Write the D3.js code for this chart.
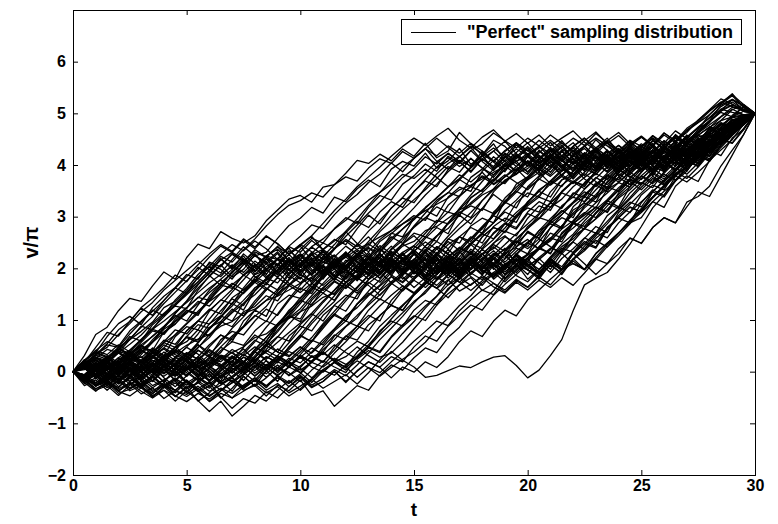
<!DOCTYPE html>
<html>
<head>
<meta charset="utf-8">
<script src="https://cdn.jsdelivr.net/npm/d3@7"></script>
<style>
body { margin: 0; background: #fff; }
svg { display: block; font-family: "Liberation Sans", Arial, Helvetica, sans-serif; }
</style>
</head>
<body>
<svg></svg>
<script>
// sampled paths, v/pi read every 0.5 of t from 0 to 30
const path01 = [0,.31,.72,.86,1.18,1.42,1.36,1.66,1.93,1.79, 2.21,2.47,2.38,2.71,2.58,2.49,2.63,2.92,3.13,3.34, 3.41,3.28,3.57,3.62,3.84,4.09,4.03,4.21,4.08,4.31, 4.17,4.42,4.14,4.27,4.63,4.41,4.19,4.48,4.36,4.12, 4.33,4.06,4.18,4.39,4.13,3.92,4.17,4.04,4.28,4.11, 4.24,4.37,4.12,4.33,4.52,4.41,4.73,4.62,4.88,4.83,5];
const path02 = [0,.18,.47,.76,.69,.98,1.23,1.09,1.38,1.62, 1.51,1.83,2.04,1.91,2.17,2.42,2.24,2.31,2.58,2.83, 2.97,3.18,3.07,3.38,3.29,3.54,3.71,3.58,3.92,4.07, 3.98,4.23,3.94,4.08,4.32,4.01,4.19,4.41,4.07,3.88, 4.16,3.97,3.81,4.08,4.27,3.99,4.22,4.43,4.14,3.96, 4.19,4.34,4.07,4.38,4.21,4.54,4.62,4.81,4.69,4.91,5];
const path03 = [0,.22,.37,.68,.93,1.07,.91,1.24,1.46,1.63, 1.88,1.79,2.12,2.03,2.29,2.14,1.93,2.18,2.06,2.34, 2.17,2.41,2.26,2.02,2.27,2.13,1.96,2.22,2.43,2.19, 2.31,2.08,2.24,2.46,2.61,2.52,2.79,3.02,2.91,3.27, 3.46,3.38,3.69,3.91,3.82,4.07,3.94,4.18,4.03,4.26, 4.12,3.93,4.17,4.04,4.29,4.51,4.42,4.63,4.87,4.79,5];
const path04 = [0,-.17,.08,.23,.47,.62,.88,.81,1.12,1.27, 1.22,1.58,1.86,2.07,1.83,1.98,2.26,2.09,1.87,2.14, 1.97,1.72,1.96,2.18,2.01,2.27,2.38,2.31,2.67,2.86, 3.02,2.93,3.28,3.47,3.39,3.76,3.92,4.16,3.98,3.82, 4.07,3.88,4.17,4.36,4.12,3.91,4.03,4.28,4.09,3.84, 4.01,4.19,3.97,4.26,4.13,4.38,4.24,4.49,4.43,4.71,5];
const path05 = [0,.12,-.07,.16,.39,.33,.57,.79,.72,.98, 1.19,1.13,1.42,1.68,1.61,1.87,2.08,1.84,1.97,2.21, 1.93,2.09,2.28,2.04,1.83,2.07,2.31,2.02,2.17,1.91, 2.12,2.37,2.19,1.94,2.08,2.29,2.13,2.48,2.72,2.63, 2.97,3.21,3.12,3.47,3.68,3.61,3.89,4.08,3.93,4.17, 4.02,3.84,4.09,4.28,4.03,4.23,4.47,4.39,4.68,4.87,5];
const path06 = [0,.19,.03,-.18,.07,.28,.46,.41,.77,.92, 1.18,1.09,1.46,1.72,1.91,2.17,2.02,1.81,2.08,2.27, 2.04,2.21,1.87,2.06,2.32,1.98,1.79,2.07,2.19,2.47, 2.68,2.61,2.88,3.09,3.02,3.37,3.52,3.73,3.64,3.91, 4.08,3.92,4.19,3.98,3.73,3.97,4.21,3.93,4.07,4.28, 4.03,4.18,3.92,4.12,4.31,4.17,4.43,4.68,4.61,4.82,5];
const path07 = [0,-.08,.13,-.16,.02,.18,.41,.27,.58,.81, .73,.98,1.21,1.12,1.43,1.58,1.79,1.68,1.97,2.18, 1.92,2.11,1.83,1.99,2.26,2.12,1.88,2.16,2.03,2.29, 2.07,1.82,2.01,2.23,1.92,2.08,2.37,2.19,1.98,2.26, 2.13,2.42,2.59,2.51,2.87,3.03,3.18,3.09,3.46,3.71, 3.63,3.88,4.07,3.91,4.18,4.02,4.29,4.47,4.62,4.81,5];
const path08 = [0,.17,-.08,.09,-.19,.03,.21,.39,.31,.68, .87,.81,1.17,1.39,1.31,1.62,1.88,1.97,2.19,2.11, 2.37,2.58,2.49,2.77,2.98,2.87,3.18,3.41,3.32,3.63, 3.79,4.02,3.88,4.17,4.03,4.28,4.07,3.89,4.16,3.97, 3.82,4.09,4.31,4.12,3.91,4.18,3.98,4.27,4.06,4.37, 4.18,4.01,4.27,4.09,4.41,4.58,4.47,4.78,4.73,4.92,5];
const path09 = [0,-.21,-.04,.18,.12,-.07,.19,.28,.52,.41, .68,.91,.84,1.07,1.32,1.19,1.57,1.81,1.72,1.98, 2.16,1.88,2.07,2.24,1.97,1.76,2.04,2.29,2.08,1.86, 2.13,1.97,2.28,2.57,2.49,2.82,2.97,2.88,3.31,3.49, 3.38,3.77,3.92,4.18,4.02,3.79,4.07,4.29,3.98,4.19, 3.92,4.11,4.36,4.18,4.02,4.27,4.58,4.51,4.77,4.91,5];
const path10 = [0,.09,-.12,.16,.03,.21,.08,.37,.61,.53, .79,.98,.92,1.18,1.41,1.28,1.62,1.79,2.03,1.81, 2.08,2.27,1.98,1.77,2.06,1.91,2.18,2.39,2.12,1.97, 1.78,2.07,2.31,2.02,2.19,1.89,2.13,1.83,2.01,2.28, 2.09,1.87,2.16,1.98,2.27,2.48,2.39,2.76,2.97,2.88, 3.27,3.52,3.41,3.78,3.97,4.18,4.07,4.39,4.61,4.78,5];
const path11 = [0,-.12,.17,.02,-.19,.08,-.03,.27,.19,.47, .58,.81,.69,.97,1.21,1.08,1.37,1.61,1.48,1.79, 2.03,2.19,1.92,2.13,1.98,2.28,2.21,2.52,2.68,2.61, 2.97,3.12,3.01,3.38,3.57,3.49,3.88,4.09,3.92,4.18, 3.97,4.27,4.08,3.79,4.02,4.21,3.91,4.13,4.32,4.04, 4.22,4.08,4.37,4.19,4.48,4.31,4.57,4.79,4.71,4.93,5];
const path12 = [0,.13,.28,.09,-.04,.18,-.08,.12,.31,.42, .68,.61,.93,1.08,.98,1.32,1.49,1.71,1.58,1.92, 2.11,1.87,2.23,2.01,1.72,1.98,2.19,2.12,1.91,2.21, 1.97,2.32,2.08,1.81,2.03,2.24,1.92,2.08,2.29,2.41, 2.72,2.58,2.91,3.12,2.98,3.41,3.62,3.48,3.87,4.02, 4.17,3.98,3.87,4.16,4.08,4.38,4.27,4.61,4.77,4.89,5];
const path13 = [0,-.18,.02,-.09,.21,.07,-.12,.18,.04,-.17, .08,.29,.52,.71,.58,.98,1.19,1.07,1.52,1.68, 1.92,2.13,1.88,2.19,1.97,1.82,2.09,2.28,2.03,2.17, 2.32,2.58,2.79,2.67,3.08,3.21,3.12,3.48,3.71,3.82, 3.98,4.19,4.02,3.79,4.08,3.88,4.17,4.01,4.29,4.07, 3.91,4.12,4.28,4.09,4.37,4.21,4.52,4.68,4.61,4.82,5];
const path14 = [0,.21,.04,.27,.12,-.08,.13,.29,.17,.02, .27,.19,.48,.71,.62,.87,1.09,.97,1.31,1.48, 1.42,1.69,1.92,2.09,1.87,2.18,2.03,1.81,2.08,2.27, 1.98,2.17,1.89,2.13,1.82,2.01,2.28,2.07,1.88,2.19, 2.03,2.21,2.39,2.31,2.62,2.77,2.68,3.02,3.19,3.08, 3.42,3.61,3.52,3.88,4.08,3.97,4.28,4.49,4.42,4.68,5];
const path15 = [0,-.11,-.28,-.07,-.22,.03,-.27,-.08,.11,-.02, .18,.41,.29,.62,.78,.71,.98,1.21,1.09,1.38, 1.62,1.51,1.87,2.08,1.97,1.79,2.12,1.91,2.19,2.02, 2.28,2.07,1.92,2.23,2.41,2.29,2.61,2.79,2.71,3.02, 3.17,3.09,3.48,3.71,3.79,4.02,3.81,4.13,3.92,4.19, 4.03,4.27,4.08,3.91,4.19,4.41,4.29,4.62,4.78,4.91,5];
const path16 = [0,.08,-.13,.09,.27,.12,-.09,.17,.02,.28, .11,-.07,.19,.41,.58,.51,.79,.98,.88,1.19, 1.38,1.29,1.61,1.82,1.97,2.21,2.08,2.39,2.61,2.48, 2.81,2.98,2.89,3.22,3.41,3.58,3.49,3.81,3.98,4.19, 4.02,3.81,4.08,4.29,4.01,4.17,3.92,4.13,4.32,3.98, 4.19,4.42,4.12,4.33,4.51,4.38,4.69,4.58,4.87,4.79,5];
const path17 = [0,-.19,-.07,-.27,-.12,.08,-.18,.03,-.21,.07, .02,-.17,.09,.28,.18,.47,.71,.58,.92,1.08, .97,1.31,1.52,1.38,1.72,1.88,2.11,1.97,2.18,1.92, 2.07,2.31,1.98,2.19,1.88,2.09,2.27,2.38,2.61,2.49, 2.81,2.98,2.91,3.21,3.38,3.29,3.62,3.79,3.71,3.98, 4.21,4.03,4.28,4.09,3.88,4.17,4.41,4.59,4.72,4.91,5];
const path18 = [0,.18,.09,.31,.17,.38,.21,.02,.28,.08, -.09,.17,.01,-.18,.21,.38,.61,.49,.88,1.07, 1.02,1.38,1.61,1.49,1.87,2.02,2.19,1.92,2.13,2.31, 2.02,1.79,2.08,1.91,2.18,1.99,2.28,2.09,1.81,2.03, 2.21,2.41,2.28,2.69,2.88,2.81,3.08,3.31,3.19,3.58, 3.79,3.68,4.02,4.19,3.98,4.27,4.18,4.49,4.67,4.81,5];
const path19 = [0,-.09,.12,-.17,-.38,-.21,-.32,-.11,-.29,-.48, -.31,-.12,-.28,-.08,.09,.28,.17,.49,.68,.59, .91,1.12,.98,1.29,1.48,1.41,1.79,1.98,2.17,2.08, 2.39,2.61,2.52,2.88,3.09,2.98,3.31,3.52,3.69,3.87, 4.08,3.91,4.19,4.02,3.77,4.08,4.28,4.01,4.18,3.92, 4.07,4.29,4.12,4.38,4.21,4.52,4.39,4.72,4.63,4.88,5];
const path20 = [0,.11,.27,.18,-.02,.21,.08,-.12,.09,-.18, .03,.19,.08,.31,.12,-.02,.27,.51,.38,.69, .88,.79,1.09,1.28,1.17,1.49,1.71,1.88,2.09,1.91, 2.18,2.03,2.29,2.12,2.38,2.61,2.49,2.81,2.97,2.89, 3.28,3.49,3.38,3.71,3.88,4.09,3.92,4.21,3.98,4.27, 4.11,3.88,4.19,4.01,4.32,4.17,4.48,4.41,4.71,4.87,5];
const path21 = [0,-.21,-.38,-.19,-.31,-.08,-.27,-.49,-.31,-.22, -.41,-.18,-.32,-.09,.02,-.17,.08,.29,.18,.48, .71,.58,.88,1.09,.98,1.31,1.52,1.39,1.71,1.88, 2.09,1.87,2.21,1.98,1.79,2.08,1.88,2.19,2.01,2.29, 2.08,1.91,2.18,2.03,2.31,2.52,2.41,2.79,2.98,3.19, 3.09,3.48,3.71,3.89,4.11,3.98,4.29,4.18,4.52,4.69,5];
const path22 = [0,.19,.11,.28,.47,.31,.18,.39,.22,.09, .31,.08,-.11,.12,-.02,.19,.08,.29,.17,.48, .69,.58,.91,1.12,.98,1.31,1.49,1.68,1.92,2.08, 2.01,2.21,2.42,2.29,2.61,2.79,2.68,3.09,3.28,3.17, 3.58,3.79,3.98,3.88,4.19,4.02,4.31,4.08,3.89,4.17, 3.98,4.28,4.09,4.41,4.19,4.48,4.69,4.61,4.79,4.92,5];
const path23 = [0,-.12,.08,-.03,-.22,.01,-.18,-.39,-.21,-.48, -.29,-.57,-.41,-.19,-.38,-.09,-.28,.02,-.19,.11, .28,.19,.48,.71,.62,.88,1.09,.98,1.38,1.61, 1.82,2.01,2.19,1.97,1.81,2.09,2.28,2.08,1.97,2.28, 2.49,2.38,2.79,2.98,2.88,3.21,3.39,3.58,3.49,3.88, 4.01,3.79,4.09,4.28,4.12,4.39,4.27,4.58,4.79,4.89,5];
const path24 = [0,.21,.38,.29,.12,.31,.49,.38,.19,.41, .28,.52,.31,.09,.28,.17,.39,.21,-.02,.19, .38,.61,.52,.79,.98,.88,1.19,1.41,1.29,1.58, 1.79,1.98,1.88,2.21,2.39,2.28,2.61,2.79,2.69,2.98, 3.21,3.38,3.29,3.61,3.78,3.98,3.88,4.19,4.02,4.31, 4.09,3.91,4.18,4.02,4.29,4.12,4.41,4.58,4.79,4.88,5];
const path25 = [0,-.09,-.28,-.12,.08,-.11,.09,-.02,-.19,.01, -.21,-.39,-.28,-.51,-.32,-.09,-.28,-.12,.08,-.07, .11,.29,.18,.48,.69,.61,.91,1.08,1.29,1.18, 1.49,1.71,1.88,2.09,1.92,2.18,2.01,2.29,2.09,1.98, 2.19,2.41,2.68,2.59,2.91,3.08,2.98,3.29,3.51,3.69, 3.91,4.08,3.89,4.18,4.01,4.29,4.48,4.41,4.68,4.79,5];
const path26 = [0,.12,.01,.19,.08,.29,.18,-.02,.21,.39, .21,.02,.18,.09,.28,.11,-.08,.12,.01,.19, .08,.31,.19,.42,.68,.88,.79,1.09,1.28,1.19, 1.48,1.69,1.88,2.09,1.98,2.21,1.92,2.11,2.28,2.02, 2.19,1.91,2.18,2.39,2.31,2.58,2.81,2.69,3.08,3.28, 3.19,3.49,3.68,3.91,4.09,3.98,4.31,4.49,4.61,4.79,5];
const path27 = [0,-.18,.03,.19,.02,-.19,-.08,.11,-.12,-.29, -.08,.12,.01,-.21,.02,.18,.09,-.11,.08,-.02, -.19,.03,.21,.09,-.02,.29,.48,.39,.68,.91, 1.08,.99,1.29,1.51,1.68,1.91,2.08,2.29,2.19,2.48, 2.69,2.58,2.91,3.09,3.28,3.48,3.38,3.79,3.98,3.81, 4.08,4.29,4.11,3.89,4.19,4.38,4.29,4.61,4.78,4.91,5];
const path28 = [0,.09,.28,.21,.02,.19,-.01,.18,.38,.21, .08,.29,.11,-.09,.12,.28,.19,.41,.29,.08, .31,.19,.38,.21,.42,.59,.48,.79,.98,.88, 1.19,1.38,1.29,1.61,1.79,1.98,2.19,2.01,1.79,2.08, 2.28,2.11,1.92,2.19,2.38,2.59,2.48,2.79,2.98,3.18, 3.09,3.38,3.59,3.79,3.98,4.19,4.09,4.38,4.59,4.79,5];
const path29 = [0,-.11,.09,-.08,-.29,-.12,-.31,-.49,-.28,-.41, -.19,-.38,-.58,-.42,-.51,-.29,-.12,-.31,-.08,.09, -.02,-.21,.01,.18,.09,-.11,.08,-.02,.19,.38, .59,.78,.98,.89,1.18,1.39,1.58,1.49,1.79,1.98, 2.19,2.38,2.29,2.61,2.78,2.98,3.19,3.08,3.39,3.58, 3.79,3.98,3.88,4.19,4.09,4.28,4.49,4.41,4.68,4.79,5];
const path30 = [0,.18,.09,.28,.11,-.09,.12,-.01,.19,.02, -.19,-.38,-.21,-.49,-.71,-.52,-.61,-.39,-.51,-.29, -.12,-.31,-.19,.01,-.21,.02,.19,.08,-.12,.09, -.01,.19,.08,.29,.58,.79,.68,.98,1.19,1.08, 1.39,1.58,1.79,1.98,2.09,1.98,2.29,2.49,2.68,2.89, 3.08,3.29,3.49,3.69,3.98,4.09,4.29,4.48,4.61,4.79,5];
const path31 = [0,.19,.41,.58,.49,.79,.98,1.19,1.08,1.39, 1.61,1.88,2.09,1.98,1.79,2.08,2.29,1.98,2.19,1.89, 2.09,2.31,1.98,1.79,2.11,2.28,2.08,1.88,2.19,1.98, 2.29,2.09,2.38,2.19,1.91,2.09,2.29,1.98,2.18,2.39, 2.28,2.68,2.91,2.79,3.19,3.39,3.28,3.68,3.89,4.09, 3.98,4.29,4.08,3.89,4.18,4.39,4.58,4.49,4.79,4.89,5];
const path32 = [0,.08,-.09,.19,.41,.68,.59,.91,1.09,1.29, 1.49,1.69,1.91,2.19,1.98,2.28,2.09,1.88,2.19,2.39, 2.08,2.29,2.49,2.38,2.69,2.91,2.79,3.09,3.29,3.18, 3.49,3.69,3.58,3.91,4.09,3.98,4.19,3.91,4.08,4.39, 4.19,3.98,4.29,4.09,3.88,4.19,4.49,4.28,4.08,4.39, 4.18,4.48,4.29,4.59,4.41,4.69,4.98,5.19,5.38,5.11,5];
const path33 = [0,-.19,.01,-.21,.09,-.08,.11,-.01,.29,.48, .79,.98,1.19,1.38,1.59,1.88,1.98,2.19,1.91,2.09, 2.28,1.98,1.79,2.08,2.29,1.98,2.19,1.88,2.09,1.79, 1.98,2.19,1.89,2.09,2.29,2.49,2.38,2.69,2.88,2.79, 3.09,3.29,3.18,3.49,3.69,3.58,3.88,4.09,3.88,4.19, 3.98,4.29,4.08,4.38,4.19,4.48,4.38,4.69,4.88,4.79,5];
const path34 = [0,.09,.28,.11,-.09,.19,.48,.69,.88,1.09, .98,1.29,1.58,1.79,1.98,2.19,1.88,2.09,2.29,1.98, 1.79,2.08,1.88,2.19,1.98,2.29,2.08,1.88,2.19,1.98, 2.28,2.09,1.79,2.08,1.88,2.19,1.98,2.18,2.39,2.09, 1.88,2.19,1.98,2.29,2.09,1.98,2.28,2.48,2.69,2.88, 2.98,3.29,3.18,3.59,3.79,3.68,4.09,4.29,4.49,4.79,5];
const path35 = [0,.19,.02,.18,.38,.21,.01,-.19,.02,-.09, .08,-.11,.19,.48,.69,.88,1.19,1.38,1.59,1.88, 2.09,1.88,2.19,1.98,1.79,1.98,2.19,2.09,2.38,2.59, 2.79,2.98,3.19,3.08,3.39,3.59,3.79,3.69,3.98,4.19, 3.98,4.29,4.09,3.88,4.19,3.98,4.29,4.08,3.79,3.98, 4.19,3.98,4.28,4.09,4.38,4.29,4.59,4.48,4.79,4.89,5];
const path36 = [0,-.09,-.28,-.19,-.38,-.21,-.29,-.09,-.28,-.19, -.39,-.21,.01,-.19,-.09,.09,.38,.59,.88,1.09, 1.38,1.59,1.88,2.09,1.98,1.79,2.08,2.29,1.98,2.19, 1.89,2.09,1.79,1.98,2.19,1.88,2.09,1.79,1.98,2.19, 1.98,1.79,2.09,1.88,2.19,1.98,2.18,2.09,2.38,2.58, 2.49,2.79,2.98,2.88,3.19,3.48,3.39,3.79,4.19,4.59,5];
const path37 = [0,.09,-.09,.11,.01,.19,.29,.09,.28,.48, .29,.09,.28,.19,.38,.19,.39,.59,.38,.29, .48,.28,.38,.69,.88,1.09,1.29,1.49,1.69,1.88, 2.09,1.98,2.19,1.98,2.29,2.48,2.69,2.88,3.09,2.98, 3.29,3.49,3.69,3.58,3.88,4.09,4.29,4.08,3.88,4.19, 3.98,4.29,4.09,4.38,4.19,4.49,4.29,4.59,4.88,4.78,5];
const path38 = [0,-.09,.09,.28,.09,-.01,.19,-.01,.19,.09, -.09,.11,-.19,.01,.19,-.01,-.19,.01,.19,.09, .28,.09,-.01,.19,.09,.38,.59,.88,1.09,1.29, 1.49,1.69,1.98,1.88,2.09,2.29,1.98,2.19,1.88,2.09, 1.79,1.98,2.19,1.98,2.29,2.09,1.88,2.09,2.28,2.59, 2.48,2.79,2.98,2.88,3.28,3.39,3.59,3.98,4.29,4.59,5];
const path39 = [0,.19,.01,-.19,.01,.19,.09,.29,.09,.28, .19,-.01,.19,.09,.29,.09,-.09,.09,-.09,-.29, -.09,-.29,-.19,.01,-.19,.01,.19,.09,.29,.19, .48,.69,.59,.88,1.09,1.29,1.19,1.48,1.69,1.88, 2.09,1.88,2.19,1.98,2.29,2.48,2.69,2.59,2.88,3.09, 3.29,3.48,3.38,3.69,3.88,4.19,4.09,4.38,4.59,4.79,5];
const path40 = [0,.11,-.09,-.27,-.08,-.19,.02,-.18,.09,-.02, .18,.01,-.19,.03,.21,.09,.28,.12,.31,.18, -.02,.21,.38,.19,.29,.48,.31,.18,.39,.22, .09,-.11,-.07,.02,.11,.08,.19,.28,.31,.12, -.12,.03,.31,.62,1.18,1.68,1.81,1.92,2.18,2.47, 2.81,3.17,3.42,3.71,3.92,4.13,4.31,4.42,4.63,4.81,5];
const path41 = [0,-.17,-.06,.13,-.08,.12,.33,.57,.86,1.13, 1.37,1.68,1.92,2.17,2.03,2.24,1.94,2.13,2.32,2.06, 1.87,2.16,2.02,1.83,2.12,2.34,2.04,2.22,1.93,2.14, 2.33,2.04,2.23,1.94,2.12,2.31,2.13,2.02,2.27,2.53, 2.42,2.73,2.86,2.77,3.13,3.26,3.17,3.53,3.66,3.57, 3.86,4.12,3.97,4.27,4.13,4.36,4.57,4.52,4.76,4.93,5];
const path42 = [0,.23,.07,-.13,.06,.26,.13,.32,.16,.04, .23,.03,-.16,.06,.26,.17,.43,.66,.93,1.16, 1.43,1.63,1.84,2.06,1.96,2.23,2.03,2.26,2.13,1.94, 2.16,2.43,2.63,2.77,3.03,2.86,3.16,3.43,3.26,3.63, 3.77,4.03,4.16,3.96,3.77,4.06,4.26,4.13,3.86,4.16, 4.03,4.26,4.13,4.36,4.23,4.46,4.36,4.73,4.93,5.13,5];
const path43 = [0,.13,.26,.16,.36,.23,.04,.17,-.03,.16, .36,.23,.06,-.13,.07,-.06,.13,.03,.23,.43, .66,.93,1.16,1.36,1.66,1.86,2.13,1.96,2.23,1.93, 2.13,1.86,2.16,2.03,2.33,2.06,1.87,2.23,2.03,2.26, 2.06,2.17,2.36,2.66,2.87,2.76,3.07,3.26,3.16,3.46, 3.66,3.56,3.87,4.06,3.96,4.26,4.16,4.46,4.67,4.83,5];
const path44 = [0,-.13,.06,.03,.17,.02,-.16,.04,.23,.13, .33,.56,.83,1.06,1.27,1.53,1.76,2.03,2.17,1.96, 2.23,2.06,2.37,2.56,2.46,2.77,3.03,2.86,3.17,3.36, 3.27,3.56,3.83,4.03,4.17,3.96,4.27,4.06,3.87,4.16, 4.36,4.17,3.97,4.26,4.06,4.37,4.16,3.96,4.26,4.46, 4.27,4.56,4.37,4.16,4.46,4.67,4.86,5.16,5.27,5.06,5];
const path45 = [0,.07,-.13,.03,.17,.26,.16,.37,.56,.47, .66,.57,.86,.97,.87,1.16,1.26,1.47,1.37,1.66, 1.87,1.76,2.06,1.87,2.16,1.97,2.27,2.06,1.86,2.17, 1.96,2.26,2.07,2.37,2.16,2.46,2.67,2.57,2.86,2.76, 3.06,2.96,3.27,3.16,3.46,3.37,3.66,3.57,3.86,4.06, 3.87,4.16,3.97,4.26,4.07,4.36,4.56,4.47,4.76,4.87,5];
const path46 = [0,-.17,-.36,-.27,-.46,-.26,-.07,-.27,-.16,-.37, -.17,-.36,-.57,-.37,-.16,-.36,-.27,-.47,-.26,-.37, -.16,-.46,-.37,-.67,-.47,-.27,-.36,-.07,.13,.03, .27,.46,.37,.66,.86,1.16,1.37,1.57,1.86,2.06, 1.97,2.17,2.37,2.57,2.86,3.06,3.27,3.46,3.66,3.87, 4.06,3.86,4.17,3.97,4.26,4.07,4.37,4.56,4.67,4.86,5];
const path47 = [0,-.07,-.26,-.07,-.17,-.37,-.27,-.46,-.36,-.57, -.37,-.56,-.77,-.57,-.86,-.67,-.46,-.57,-.36,-.17, -.36,-.16,.03,-.07,.13,.27,.46,.37,.66,.87, 1.06,1.27,1.46,1.76,1.96,2.16,1.97,2.26,2.46,2.67, 2.86,3.06,3.27,3.46,3.37,3.66,3.86,4.16,3.97,4.27, 4.06,3.87,4.16,4.37,4.17,4.46,4.27,4.56,4.77,4.86,5];
const path48 = [0,-.27,-.16,-.36,-.17,-.06,-.26,-.07,.13,-.06, .07,-.07,.16,.37,.66,.86,1.07,1.26,1.56,1.77, 1.96,2.16,1.97,1.77,2.06,2.26,2.07,1.87,2.16,1.96, 2.17,1.97,2.26,2.56,2.77,2.96,3.16,3.06,3.36,3.57, 3.76,3.96,4.16,3.97,3.76,4.06,4.26,3.97,4.17,4.36, 4.07,4.26,4.06,4.36,4.56,4.37,4.66,4.86,5.07,5.17,5];
const path49 = [0,.14,.33,.54,.81,.97,1.24,1.42,1.63,1.87, 1.74,2.02,1.86,1.67,1.93,2.11,1.84,1.72,1.98,2.14, 1.89,1.76,2.04,1.83,1.95,2.24,2.43,2.71,2.92,3.14, 3.33,3.52,3.74,3.97,3.86,4.13,3.94,3.76,4.02,4.22, 4.04,3.87,4.14,3.93,4.21,4.37,4.12,3.96,4.23,4.06, 4.31,4.14,4.42,4.26,4.53,4.71,4.84,5.02,4.93,5.04,5];
const path50 = [0,-.06,.14,.04,.23,.38,.61,.82,.74,1.02, 1.23,1.44,1.38,1.66,1.94,2.13,2.32,2.21,2.43,2.14, 2.02,2.26,2.37,2.12,1.96,2.22,2.41,2.18,2.03,2.31, 2.44,2.68,2.93,2.86,3.14,3.36,3.52,3.71,3.92,4.13, 4.32,4.14,4.26,4.47,4.21,4.04,4.33,4.52,4.24,4.11, 4.36,4.22,4.47,4.31,4.58,4.44,4.72,4.93,5.08,4.97,5];
const path51 = [0,.16,.32,.24,.43,.36,.52,.31,.44,.28, .47,.34,.13,.32,.26,.44,.22,.38,.57,.76, .94,1.13,1.37,1.58,1.82,2.04,1.86,2.07,1.93,2.16, 1.92,2.08,2.27,2.04,1.84,2.13,2.02,2.24,2.36,2.58, 2.77,2.96,3.18,3.34,3.58,3.76,3.92,4.14,4.03,4.23, 4.06,3.93,4.17,4.34,4.22,4.48,4.36,4.62,4.83,4.94,5];
const path52 = [0,-.14,-.33,-.23,-.42,-.34,-.18,-.36,-.27,-.12, -.31,-.22,-.04,-.23,-.12,.06,.31,.54,.77,1.04, 1.22,1.47,1.71,1.94,1.82,2.04,1.87,1.73,1.96,2.13, 1.94,1.76,2.03,1.88,2.12,1.91,1.78,2.06,1.93,2.14, 1.97,1.84,2.07,2.34,2.52,2.77,2.96,3.21,3.43,3.64, 3.86,4.07,3.94,4.16,3.97,4.23,4.12,4.43,4.66,4.82,5];
const path53 = [0,.07,-.12,.06,-.07,.14,.03,.22,.13,.04, .26,.47,.66,.93,1.14,1.32,1.56,1.78,1.96,2.14, 2.03,1.86,2.12,2.26,2.04,1.93,2.17,2.02,2.36,2.54, 2.82,3.07,3.32,3.46,3.71,3.94,4.12,3.97,4.23,4.07, 3.86,4.03,4.21,4.08,3.94,4.16,4.34,4.14,3.97,4.08, 4.27,4.06,4.32,4.18,4.42,4.33,4.64,4.82,4.73,4.94,5];
const path54 = [0,.12,.24,.08,.21,.36,.18,.06,.24,.13, .31,.56,.82,1.04,1.33,1.54,1.82,1.96,2.18,2.07, 2.26,2.04,1.88,2.13,2.31,2.14,1.97,2.21,2.06,1.87, 2.08,2.32,2.13,1.94,2.22,2.47,2.66,2.88,3.13,3.32, 3.56,3.72,3.94,4.13,4.02,4.24,4.06,3.88,4.13,4.32, 4.14,4.27,4.04,4.31,4.16,4.43,4.62,4.54,4.86,4.93,5];
const path55 = [0,-.06,.13,.27,.14,.32,.17,.36,.24,.08, .22,.07,.26,.14,-.03,.17,.43,.66,.92,1.13, 1.36,1.63,1.87,2.06,2.22,2.04,1.91,2.13,2.28,2.07, 2.17,2.43,2.62,2.86,3.04,3.27,3.46,3.68,3.91,4.07, 4.22,4.04,3.86,4.12,4.27,4.03,4.18,3.94,4.16,4.33, 4.12,4.36,4.17,4.43,4.26,4.52,4.43,4.74,4.96,5.12,5];
const path56 = [0,-.13,-.04,-.22,-.07,-.24,-.13,-.31,-.16,-.04, -.22,-.08,.06,-.12,.04,.17,-.03,.14,.03,.22, .43,.66,.93,1.17,1.42,1.64,1.87,2.06,1.91,2.17, 2.04,1.84,2.07,2.24,2.03,2.19,2.44,2.67,2.86,3.08, 3.27,3.52,3.67,3.88,4.06,3.91,4.17,4.04,4.24,3.97, 4.13,4.26,4.08,4.32,4.14,4.41,4.62,4.53,4.82,4.94,5];
const path57 = [0,.06,.22,.07,.18,.34,.22,.43,.27,.38, .24,.07,.23,.12,.31,.14,.02,.21,.07,.26, .17,.38,.62,.83,1.08,1.24,1.47,1.66,1.84,1.72, 1.93,1.76,1.62,1.87,2.03,1.84,1.67,1.92,2.08,1.86, 1.74,1.96,2.22,2.47,2.66,2.92,3.14,3.33,3.56,3.74, 3.96,4.14,3.93,4.22,4.07,4.34,4.23,4.51,4.72,4.86,5];
const path58 = [0,-.12,-.22,-.06,-.16,.04,-.13,.07,-.04,.13, -.02,-.17,-.06,-.24,-.11,-.33,-.16,-.28,-.12,-.23, -.07,-.26,-.13,.04,-.08,.13,.36,.62,.84,1.07, 1.33,1.56,1.78,2.04,1.86,2.14,1.97,1.83,2.07,2.23, 2.03,1.88,2.12,1.96,2.17,2.34,2.58,2.76,3.02,3.24, 3.46,3.67,3.84,4.06,3.92,4.17,4.33,4.46,4.68,4.84,5];
const path59 = [0,.13,-.04,.17,.06,.24,.43,.58,.82,.97, 1.13,1.36,1.27,1.52,1.68,1.86,2.03,2.24,2.17,2.43, 2.62,2.84,2.77,3.04,3.26,3.43,3.66,3.82,4.04,3.87, 4.13,4.32,4.07,3.92,4.16,4.34,4.08,4.27,4.46,4.22, 4.04,4.23,4.44,4.17,4.36,4.13,3.97,4.22,4.38,4.16, 4.34,4.52,4.27,4.46,4.63,4.87,5.06,5.22,5.13,5.04,5];
const path60 = [0,-.06,.12,.23,.08,.19,.36,.62,.84,1.13, 1.36,1.62,1.84,2.06,2.27,2.13,2.36,2.22,2.04,2.27, 2.43,2.16,2.33,2.07,2.24,2.46,2.23,2.04,2.31,2.17, 2.36,2.14,2.42,2.27,2.06,2.33,2.18,2.42,2.24,2.07, 2.26,2.38,2.53,2.76,2.92,3.17,3.36,3.54,3.77,3.92, 4.14,4.02,4.27,4.13,4.36,4.24,4.46,4.67,4.76,4.92,5];
const path61 = [0,.04,.17,.02,-.14,.03,-.08,.12,-.04,.16, .03,.14,.33,.56,.84,1.06,1.32,1.58,1.83,2.04, 2.17,1.94,2.13,2.02,2.24,2.46,2.72,2.93,3.16,3.37, 3.62,3.84,4.06,4.22,4.07,3.86,4.12,4.27,4.06,4.24, 4.43,4.18,4.04,4.26,4.43,4.17,4.32,4.06,4.23,4.41, 4.22,4.47,4.33,4.56,4.37,4.62,4.83,5.04,5.27,5.16,5];
const path62 = [0,.14,.07,.26,.14,.33,.17,.29,.11,.23, .06,.22,.41,.27,.13,.33,.21,.07,.26,.12, .31,.18,.36,.23,.07,.27,.48,.72,.93,1.14, 1.36,1.52,1.77,1.93,2.12,1.97,2.16,2.34,2.12,2.33, 2.51,2.64,2.87,3.04,3.26,3.43,3.62,3.84,4.03,3.88, 4.13,4.02,4.26,4.07,4.32,4.18,4.44,4.63,4.76,4.88,5];
const path63 = [0,-.23,-.12,-.31,-.17,-.33,-.22,-.43,-.24,-.36, -.16,-.33,-.48,-.32,-.42,-.26,-.12,-.27,-.08,-.21, -.04,.18,.43,.62,.87,1.04,1.33,1.56,1.74,1.92, 1.83,2.04,1.92,2.14,1.96,2.13,1.88,2.07,2.33,2.56, 2.77,3.04,3.26,3.48,3.67,3.86,4.03,3.86,4.08,4.24, 4.06,4.23,4.04,4.31,4.17,4.36,4.54,4.68,4.82,4.93,5];
const path64 = [0,.09,.26,.43,.37,.62,.78,.96,1.24,1.36, 1.57,1.82,2.04,2.27,2.46,2.34,2.53,2.38,2.17,2.42, 2.31,2.54,2.36,2.22,2.43,2.27,2.47,2.33,2.58,2.76, 2.94,3.16,3.37,3.58,3.74,3.96,4.17,4.33,4.16,4.42, 4.27,4.48,4.31,4.12,4.36,4.52,4.28,4.44,4.22,4.38, 4.54,4.36,4.58,4.43,4.66,4.82,4.97,5.18,5.34,5.12,5];
const path65 = [0,.08,-.11,-.02,-.17,-.04,.12,-.03,.14,.03, .22,.46,.72,.93,1.17,1.38,1.62,1.77,1.92,1.71, 1.58,1.82,1.67,1.86,1.74,1.56,1.78,1.93,1.72,1.84, 1.63,1.82,1.67,1.88,1.73,1.57,1.76,1.92,1.74,1.96, 2.14,2.37,2.56,2.82,3.04,3.22,3.43,3.66,3.84,4.06, 3.92,4.13,3.96,4.22,4.06,4.33,4.17,4.46,4.63,4.84,5];
const path66 = [0,.17,.04,.22,.36,.53,.71,.94,1.13,1.32, 1.54,1.73,1.96,1.84,2.07,1.92,2.14,1.97,1.83,2.06, 2.23,2.42,2.57,2.76,2.93,3.14,3.32,3.47,3.63,3.82, 3.74,3.92,3.76,3.58,3.81,3.67,3.86,3.62,3.77,3.93, 3.71,3.86,3.64,3.82,3.96,3.73,3.58,3.81,3.67,3.86, 3.72,3.94,3.77,3.98,4.16,4.04,4.33,4.56,4.72,4.88,5];
const path67 = [0,-.08,.06,-.13,.04,-.14,.07,.22,.08,-.06, .12,-.04,-.17,-.03,-.21,-.06,.11,-.04,.13,-.08, .06,-.12,.04,.18,.03,.21,.07,-.09,.08,.24, .38,.57,.83,1.04,1.28,1.47,1.72,1.88,2.06,1.92, 2.13,1.98,2.21,2.42,2.57,2.78,2.96,3.14,3.36,3.52, 3.74,3.93,4.07,3.88,4.14,4.02,4.27,4.46,4.62,4.83,5];
const path68 = [0,.13,.02,.18,-.03,.14,.04,.27,.46,.72, .94,1.17,1.38,1.62,1.86,2.07,2.24,2.12,1.93,2.17, 2.02,2.26,2.11,2.37,2.62,2.84,3.07,3.28,3.53,3.76, 3.93,4.16,4.02,4.23,4.06,3.88,4.12,3.94,4.18,4.03, 3.87,4.11,3.96,4.17,4.33,4.08,3.92,4.14,3.98,4.21, 4.04,4.26,4.12,4.34,4.18,4.43,4.62,4.78,4.91,4.96,5];
const path69 = [0,-.12,.03,-.16,-.04,.13,-.02,-.18,.04,-.08, .07,-.11,.06,.24,.37,.48,.66,.73,.92,1.03, 1.16,1.27,1.44,1.52,1.73,1.84,1.96,2.14,2.22,2.43, 2.52,2.73,2.81,2.97,3.13,3.24,3.42,3.53,3.67,3.84, 3.93,4.12,3.96,4.17,4.04,4.23,4.08,4.27,4.13,4.34, 4.16,4.38,4.22,4.46,4.31,4.57,4.74,4.68,4.87,4.96,5];
const path70 = [0,.16,.34,.47,.72,.93,1.16,1.34,1.58,1.77, 1.96,2.14,1.97,2.23,2.12,2.36,2.57,2.82,3.04,3.22, 3.31,3.46,3.38,3.62,3.77,3.69,3.94,4.12,4.03,4.26, 4.13,4.32,4.52,4.34,4.16,4.37,4.22,4.06,4.28,4.43, 4.21,4.36,4.14,3.97,4.18,4.32,4.12,4.27,4.06,4.22, 4.38,4.16,4.33,4.52,4.37,4.64,4.82,5.08,5.22,5.07,5];
const path71 = [0,.22,.41,.33,.52,.38,.27,.46,.31,.18, .37,.24,.43,.29,.12,.34,.58,.86,1.12,1.41, 1.68,1.94,2.17,2.38,2.56,2.42,2.61,2.37,2.24,2.47, 2.63,2.41,2.28,2.52,2.34,2.57,2.76,3.02,3.26,3.47, 3.72,3.93,4.16,4.34,4.52,4.38,4.61,4.43,4.27,4.48, 4.36,4.57,4.42,4.66,4.51,4.73,4.92,5.13,5.26,5.14,5];
const path72 = [0,-.16,-.33,-.21,-.38,-.47,-.31,-.42,-.26,-.37, -.48,-.33,-.19,-.36,-.22,-.04,.21,.43,.67,.92, 1.16,1.42,1.63,1.81,1.67,1.52,1.73,1.58,1.84,1.66, 1.51,1.74,1.62,1.43,1.68,1.82,1.57,1.71,1.54,1.76, 1.63,1.86,2.13,2.36,2.62,2.87,3.06,3.32,3.51,3.73, 3.62,3.84,3.68,3.87,3.74,3.96,4.22,4.46,4.63,4.82,5];
const path73 = [0,.13,.31,.52,.47,.73,.96,1.17,1.38,1.62, 1.84,2.07,2.28,2.46,2.33,2.57,2.41,2.63,2.48,2.27, 2.44,2.62,2.36,2.53,2.71,2.48,2.32,2.56,2.73,2.94, 3.17,3.42,3.63,3.87,4.06,4.28,4.41,4.62,4.47,4.33, 4.52,4.37,4.58,4.42,4.26,4.47,4.64,4.41,4.57,4.36, 4.54,4.38,4.62,4.46,4.68,4.83,5.04,5.21,5.36,5.17,5];
const path74 = [0,.08,-.12,.04,.16,.02,.21,.38,.56,.71, .92,1.13,1.36,1.52,1.71,1.58,1.77,1.62,1.47,1.68, 1.83,1.64,1.52,1.74,1.61,1.82,1.67,1.48,1.71,1.56, 1.77,1.63,1.84,1.68,1.92,2.14,2.37,2.56,2.78,3.03, 3.24,3.42,3.63,3.81,3.67,3.54,3.76,3.62,3.83,3.68, 3.52,3.74,3.61,3.82,3.96,4.14,4.36,4.52,4.71,4.86,5];
const path75 = [0,.18,.07,.26,.38,.24,.43,.29,.46,.33, .21,.42,.28,.47,.36,.19,.38,.24,.44,.31, .48,.36,.57,.82,1.04,1.31,1.56,1.78,2.04,2.26, 2.43,2.31,2.52,2.38,2.61,2.46,2.27,2.49,2.63,2.42, 2.56,2.37,2.58,2.82,3.07,3.28,3.52,3.74,3.96,4.17, 4.36,4.52,4.38,4.57,4.43,4.62,4.78,4.94,5.12,5.08,5];
const path76 = [0,-.12,-.27,-.18,-.36,-.24,-.43,-.31,-.52,-.37, -.44,-.28,-.46,-.33,-.51,-.38,-.24,-.41,-.29,-.47, -.33,-.14,.12,.36,.58,.82,1.04,1.27,1.48,1.66, 1.53,1.74,1.61,1.78,1.56,1.69,1.83,1.64,1.52,1.73, 1.58,1.77,1.63,1.82,1.67,1.91,2.17,2.42,2.68,2.93, 3.16,3.38,3.57,3.79,3.67,3.86,4.07,4.34,4.57,4.78,5];
const path77 = [0,.21,.36,.27,.44,.32,.51,.38,.27,.42, .33,.52,.37,.24,.43,.31,.48,.36,.22,.39, .28,.46,.33,.52,.37,.24,.41,.28,.36,.57, .83,1.08,1.34,1.58,1.83,2.07,2.28,2.46,2.33,2.52, 2.38,2.57,2.42,2.28,2.51,2.36,2.54,2.41,2.63,2.86, 3.12,3.36,3.58,3.82,4.04,4.22,4.43,4.61,4.78,4.92,5];
const path78 = [0,.14,.02,.24,.43,.64,.86,1.07,1.32,1.54, 1.76,1.97,2.22,2.43,2.31,2.54,2.38,2.62,2.47,2.28, 2.46,2.63,2.87,3.12,3.34,3.58,3.77,3.96,4.17,4.36, 4.52,4.38,4.56,4.71,4.48,4.33,4.54,4.68,4.46,4.61, 4.42,4.58,4.37,4.52,4.66,4.44,4.28,4.47,4.63,4.41, 4.56,4.38,4.62,4.47,4.71,4.86,5.07,5.28,5.18,5.06,5];
const path79 = [0,-.07,.11,-.04,.18,.34,.52,.68,.87,1.06, 1.24,1.43,1.62,1.78,1.64,1.51,1.73,1.58,1.82,1.67, 1.53,1.71,1.57,1.76,1.62,1.84,2.07,2.31,2.54,2.76, 2.97,3.18,3.36,3.57,3.72,3.58,3.77,3.63,3.81,3.66, 3.52,3.73,3.61,3.78,3.64,3.83,3.68,3.54,3.76,3.62, 3.78,3.64,3.82,3.71,3.92,4.13,4.38,4.56,4.73,4.88,5];
const path80 = [0,.06,-.08,.11,-.04,.09,-.13,.04,-.09,.07, -.06,.12,-.03,.08,-.11,.04,.16,.03,.24,.47, .71,.98,1.22,1.47,1.73,1.96,2.21,2.08,2.33,2.17, 2.34,2.19,2.06,2.28,2.13,2.37,2.22,2.06,2.31,2.14, 2.27,2.52,2.78,3.04,3.28,3.53,3.74,3.96,4.18,4.06, 4.24,4.08,4.32,4.16,4.38,4.24,4.47,4.68,4.82,4.92,5];
const path81 = [0,-.09,.07,-.06,.12,.03,-.07,.14,.02,.26, .48,.73,1.02,1.28,1.54,1.78,2.03,2.24,2.41,2.28, 2.46,2.32,2.18,2.39,2.53,2.36,2.21,2.44,2.28,2.47, 2.33,2.51,2.37,2.62,2.86,3.08,3.31,3.54,3.78,3.97, 4.18,4.33,4.48,4.31,4.17,4.36,4.52,4.37,4.21,4.43, 4.28,4.47,4.32,4.56,4.42,4.63,4.84,5.06,5.17,5.04,5];
const path82 = [0,-.18,-.06,-.24,-.13,-.31,-.22,-.08,-.27,-.16, -.34,-.21,-.38,-.26,-.12,-.29,-.17,-.36,-.23,-.41, -.28,-.14,-.32,-.19,-.06,-.24,-.02,.23,.48,.74, .97,1.23,1.46,1.68,1.82,1.67,1.86,1.71,1.58,1.79, 1.64,1.83,1.68,1.92,2.17,2.38,2.63,2.86,3.12,3.34, 3.57,3.78,3.64,3.83,3.96,4.14,4.38,4.56,4.74,4.87,5];
const path83 = [0,.12,-.04,.16,.03,.22,.38,.57,.76,.93, 1.14,1.32,1.53,1.71,1.92,2.14,2.03,2.23,2.08,1.96, 2.17,2.04,2.23,2.46,2.72,2.96,3.22,3.47,3.71,3.96, 4.13,4.31,4.18,4.37,4.23,4.42,4.27,4.08,4.26,4.43, 4.28,4.12,4.34,4.18,4.36,4.52,4.33,4.17,4.38,4.22, 4.41,4.26,4.47,4.32,4.54,4.73,4.91,5.08,5.02,4.97,5];
const path84 = [0,.14,.23,.09,.18,.03,.21,.12,.27,.15, .04,.22,.13,.31,.17,.06,.24,.11,.29,.16, .03,.18,.09,.26,.14,.31,.52,.76,1.02,1.27, 1.51,1.74,1.96,2.13,1.98,2.17,2.03,1.87,2.08,2.24, 2.06,1.92,2.13,1.97,2.18,2.43,2.67,2.91,3.14,3.37, 3.62,3.84,4.03,3.91,4.12,4.28,4.43,4.62,4.77,4.91,5];
const path85 = [0,-.06,-.21,-.09,-.24,-.12,-.28,-.17,-.31,-.14, -.26,-.11,-.24,-.07,-.19,-.32,-.16,.07,.31,.56, .82,1.08,1.34,1.57,1.82,2.06,2.21,2.04,1.92,2.13, 2.27,2.08,1.94,2.16,2.33,2.58,2.81,3.04,3.28,3.52, 3.74,3.96,4.13,3.96,3.82,4.04,3.88,4.07,3.93,3.76, 3.92,4.08,3.91,4.12,4.27,4.43,4.58,4.72,4.86,4.93,5];
const path86 = [0,.09,.21,.06,.27,.42,.61,.82,.98,1.16, 1.34,1.53,1.72,1.88,2.04,1.87,1.73,1.94,2.08,1.86, 1.72,1.91,2.06,1.84,1.97,1.78,1.93,2.11,1.87,1.74, 1.96,1.82,2.04,1.88,1.73,1.92,2.07,1.84,2.02,2.26, 2.48,2.73,2.96,3.18,3.43,3.64,3.83,3.72,3.91,3.78, 3.64,3.86,3.73,3.94,3.82,4.04,4.27,4.48,4.67,4.84,5];
const path87 = [0,.17,.04,-.11,.06,.19,.08,-.07,.12,-.03, .14,.27,.11,-.04,.13,.02,.18,.07,-.06,.09, .33,.58,.84,1.11,1.37,1.62,1.86,2.07,1.94,2.16, 2.08,2.34,2.62,2.88,3.16,3.42,3.68,3.92,4.14,4.31, 4.18,4.36,4.22,4.43,4.28,4.12,4.33,4.47,4.29,4.14, 4.32,4.18,4.37,4.53,4.41,4.64,4.86,5.04,5.16,5.07,5];
const path88 = [0,-.11,-.24,-.16,-.33,-.22,-.38,-.51,-.36,-.47, -.58,-.42,-.53,-.37,-.21,.02,.27,.53,.81,1.06, 1.32,1.57,1.82,2.04,1.91,2.12,1.96,1.81,2.03,1.88, 2.07,1.93,1.78,2.02,1.87,2.11,1.96,1.82,2.04,2.18, 1.97,1.83,2.06,1.92,2.14,1.97,2.21,2.46,2.68,2.92, 3.14,3.38,3.61,3.82,3.97,4.16,4.32,4.47,4.68,4.84,5];
const path89 = [0,.07,.18,.04,.22,.41,.63,.84,1.06,1.28, 1.52,1.74,1.96,2.16,2.31,2.18,2.03,2.24,2.37,2.14, 2.28,2.11,2.32,2.16,2.04,2.27,2.52,2.76,3.03,3.26, 3.48,3.72,3.96,4.14,3.97,4.12,3.94,3.81,4.03,3.88, 4.07,3.92,3.78,3.97,4.13,3.94,3.82,4.04,3.87,4.06, 3.91,4.08,3.93,4.14,4.02,4.23,4.47,4.62,4.81,4.92,5];
const path90 = [0,.11,-.06,.09,-.04,.13,.02,.18,.27,.36, .51,.63,.72,.88,.97,1.13,1.21,1.38,1.46,1.58, 1.71,1.83,1.96,2.13,2.21,2.37,2.48,2.61,2.73,2.86, 2.98,3.12,3.24,3.36,3.52,3.61,3.73,3.86,3.98,4.07, 4.18,4.03,4.21,4.08,4.27,4.12,3.96,4.16,4.31,4.14, 4.28,4.13,4.34,4.21,4.43,4.58,4.73,4.86,4.93,4.97,5];

const samplePaths = [path01, path02, path03, path04, path05, path06, path07, path08, path09, path10,
    path11, path12, path13, path14, path15, path16, path17, path18, path19, path20,
    path21, path22, path23, path24, path25, path26, path27, path28, path29, path30,
    path31, path32, path33, path34, path35, path36, path37, path38, path39, path40,
    path41, path42, path43, path44, path45, path46, path47, path48, path49, path50,
    path51, path52, path53, path54, path55, path56, path57, path58, path59, path60,
    path61, path62, path63, path64, path65, path66, path67, path68, path69, path70,
    path71, path72, path73, path74, path75, path76, path77, path78, path79, path80,
    path81, path82, path83, path84, path85, path86, path87, path88, path89, path90];

const tMax = 30;
const xTicks = [0, 5, 10, 15, 20, 25, 30];
const yTicks = [-2, -1, 0, 1, 2, 3, 4, 5, 6];
const legendLabel = '"Perfect" sampling distribution';

function createElements(){
    const svg = d3.select('svg')
        .attr('width', 778)
        .attr('height', 524);

    const left = 73, right = 755, top = 10, bottom = 475;

    const x = d3.scaleLinear().domain([0, tMax]).range([left, right]);
    const y = d3.scaleLinear().domain([-2, 7]).range([bottom, top]);

    const line = d3.line()
        .x((d, i, data) => x(i * tMax / (data.length - 1)))
        .y(d => y(d));

    svg.append('g')
        .selectAll('path')
        .data(samplePaths)
        .join('path')
        .attr('d', line)
        .attr('fill', 'none')
        .attr('stroke', '#000')
        .attr('stroke-width', 1.3)
        .attr('stroke-linejoin', 'round');

    // axes with inward ticks on all four sides
    const bottomAxis = svg.append('g')
        .attr('transform', `translate(0,${bottom})`)
        .call(d3.axisBottom(x).tickValues(xTicks).tickSize(-5).tickSizeOuter(0).tickPadding(5));
    const leftAxis = svg.append('g')
        .attr('transform', `translate(${left},0)`)
        .call(d3.axisLeft(y).tickValues(yTicks).tickSize(-5).tickSizeOuter(0).tickPadding(7)
            .tickFormat(d => d < 0 ? '\u2212' + Math.abs(d) : d));
    svg.append('g')
        .attr('transform', `translate(0,${top})`)
        .call(d3.axisTop(x).tickValues(xTicks).tickSize(-5).tickSizeOuter(0).tickFormat(''));
    svg.append('g')
        .attr('transform', `translate(${right},0)`)
        .call(d3.axisRight(y).tickValues(yTicks).tickSize(-5).tickSizeOuter(0).tickFormat(''));

    svg.selectAll('.tick line').attr('stroke', '#000');
    svg.selectAll('.domain').attr('stroke', '#000');
    [bottomAxis, leftAxis].forEach(g => g.selectAll('text')
        .attr('font-family', '"Liberation Sans", Arial, sans-serif')
        .attr('font-size', 16)
        .attr('font-weight', 'bold')
        .attr('fill', '#000'));

    svg.append('rect')
        .attr('x', left + 0.5)
        .attr('y', top + 0.5)
        .attr('width', right - left)
        .attr('height', bottom - top)
        .attr('fill', 'none')
        .attr('stroke', '#000')
        .attr('stroke-width', 1);

    // axis titles
    svg.append('text')
        .attr('x', (left + right) / 2)
        .attr('y', 516)
        .attr('text-anchor', 'middle')
        .attr('font-size', 19)
        .attr('font-weight', 'bold')
        .text('t');
    svg.append('text')
        .attr('transform', `translate(38,${(top + bottom) / 2}) rotate(-90)`)
        .attr('text-anchor', 'middle')
        .attr('font-size', 20)
        .attr('font-weight', 'bold')
        .text('v/\u03c0');

    // legend
    const legend = svg.append('g');
    legend.append('rect')
        .attr('x', 401.5)
        .attr('y', 19.5)
        .attr('width', 340)
        .attr('height', 25)
        .attr('fill', '#fff')
        .attr('stroke', '#000');
    legend.append('line')
        .attr('x1', 411).attr('x2', 456)
        .attr('y1', 32.5).attr('y2', 32.5)
        .attr('stroke', '#000');
    legend.append('text')
        .attr('x', 467)
        .attr('y', 38)
        .attr('font-size', 18)
        .attr('font-weight', 'bold')
        .text(legendLabel);
}

createElements();
</script>
</body>
</html>
